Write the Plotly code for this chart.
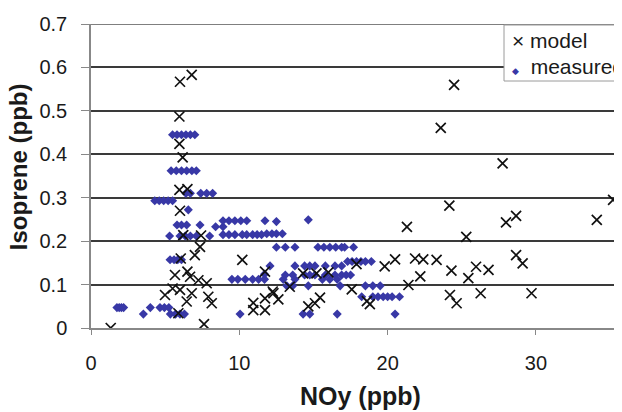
import plotly.graph_objects as go

# model points
model_x = [1.33, 6.0, 6.79, 5.96, 5.96, 6.18, 5.96, 6.5, 6.0, 6.22, 7.42, 7.35, 7.0, 6.05, 6.5, 5.66,
           6.68, 7.24, 7.8, 5.5, 6.0, 4.99, 6.79, 7.91, 6.45, 8.14, 5.89, 7.62,
           10.2, 11.73, 10.94, 10.94, 11.73, 11.73, 12.3, 12.63, 12.25, 13.4,
           14.3, 15.2, 16.0, 14.65, 15.1, 15.44, 17.58, 17.9, 18.8, 18.6, 19.8, 20.5, 21.3, 21.4,
           21.85, 22.4, 22.2, 23.3, 24.48, 23.58, 24.16, 24.3, 24.2, 24.65, 25.3, 25.44, 25.96,
           26.27, 26.8, 27.75, 27.98, 28.66, 28.66, 29.1, 29.7, 34.1, 35.2]
model_y = [0.0, 0.567, 0.583, 0.487, 0.424, 0.393, 0.318, 0.32, 0.27, 0.214, 0.213, 0.187, 0.168, 0.16, 0.13, 0.122,
           0.118, 0.11, 0.103, 0.091, 0.088, 0.076, 0.08, 0.072, 0.061, 0.057, 0.034, 0.009,
           0.157, 0.13, 0.058, 0.041, 0.068, 0.041, 0.08, 0.066, 0.084, 0.095,
           0.126, 0.126, 0.128, 0.05, 0.057, 0.07, 0.089, 0.147, 0.055, 0.062, 0.142, 0.158, 0.233, 0.099,
           0.16, 0.158, 0.119, 0.157, 0.56, 0.461, 0.282, 0.132, 0.076, 0.057, 0.21, 0.115, 0.141,
           0.08, 0.134, 0.379, 0.243, 0.258, 0.168, 0.149, 0.08, 0.249, 0.295]

# measured points
meas_x = [1.75, 1.9, 2.05, 2.2, 3.53, 4.0, 4.65, 4.95, 5.25, 5.35, 5.7, 6.0, 6.3,
          5.5, 5.8, 6.1, 6.4, 6.7, 7.0,
          5.4, 5.75, 6.1, 6.45, 6.8, 7.1,
          6.4, 6.7, 7.4, 7.8, 8.2,
          4.3, 4.6, 4.9, 5.2, 5.5, 6.56,
          5.8, 6.1, 6.45, 7.35, 8.4, 8.9,
          8.9, 9.3, 9.7, 10.1, 10.5, 11.73, 12.5, 14.65,
          5.3, 6.0, 6.35, 6.7, 7.1, 8.0, 8.9, 9.3, 9.7, 10.2, 10.5, 10.9, 11.2, 11.5, 11.85, 12.2, 12.5, 12.9,
          12.5, 13.1, 13.75, 15.3, 15.7, 16.1, 16.5, 16.9, 17.1, 17.7,
          5.33, 5.6, 5.85, 6.1, 17.3, 17.6, 17.9, 18.2, 18.5, 18.9,
          12.07, 13.75, 14.4, 14.75, 15.1, 15.8, 16.45, 16.9,
          11.7, 13.1, 13.6, 14.4, 14.75, 15.1, 15.8, 16.45, 16.9, 17.2, 17.5,
          9.5, 9.9, 10.4, 10.9, 11.3, 11.7, 12.96, 13.75, 15.6, 16.1, 16.6,
          13.2, 13.6, 14.65, 16.8, 18.5, 19.0, 19.5,
          18.25, 19.0, 19.35, 19.7, 20.0, 20.3, 20.8,
          10.05, 14.3, 14.75, 16.6, 20.5]
meas_y = [0.047, 0.047, 0.047, 0.047, 0.032, 0.047, 0.047, 0.047, 0.047, 0.032, 0.032, 0.032, 0.032,
          0.445, 0.445, 0.445, 0.445, 0.445, 0.445,
          0.362, 0.362, 0.362, 0.362, 0.362, 0.362,
          0.31, 0.31, 0.31, 0.31, 0.31,
          0.293, 0.293, 0.293, 0.293, 0.293, 0.272,
          0.237, 0.237, 0.237, 0.237, 0.233, 0.233,
          0.247, 0.247, 0.247, 0.247, 0.247, 0.247, 0.245, 0.249,
          0.212, 0.212, 0.212, 0.212, 0.212, 0.212, 0.215, 0.215, 0.215, 0.215, 0.215, 0.215, 0.215, 0.215,
          0.217, 0.217, 0.217, 0.217,
          0.186, 0.186, 0.186, 0.186, 0.186, 0.186, 0.186, 0.186, 0.186, 0.186,
          0.157, 0.157, 0.157, 0.157, 0.153, 0.153, 0.153, 0.153, 0.153, 0.153,
          0.143, 0.143, 0.143, 0.143, 0.143, 0.143, 0.143, 0.143,
          0.124, 0.122, 0.122, 0.122, 0.122, 0.122, 0.122, 0.122, 0.122, 0.122, 0.122,
          0.112, 0.112, 0.112, 0.112, 0.112, 0.112, 0.112, 0.112, 0.112, 0.112, 0.112,
          0.097, 0.097, 0.097, 0.097, 0.097, 0.097, 0.097,
          0.072, 0.072, 0.072, 0.072, 0.072, 0.072, 0.072,
          0.032, 0.032, 0.032, 0.032, 0.032]

x_ticks = [0, 10, 20, 30]
y_ticks = [0, 0.1, 0.2, 0.3, 0.4, 0.5, 0.6, 0.7]
series_names = ["model", "measured"]

FONT = "Liberation Sans, Arial, sans-serif"
BLUE = "#3838a6"
INK = "#1a1a1a"

fig = go.Figure()
fig.add_trace(go.Scatter(
    x=meas_x, y=meas_y, mode="markers", name=series_names[1],
    marker=dict(symbol="diamond", size=7, color=BLUE, line=dict(width=0)),
))
fig.add_trace(go.Scatter(
    x=model_x, y=model_y, mode="markers", name=series_names[0],
    marker=dict(symbol="x-thin-open", size=10, color="#111111",
                line=dict(width=1.7, color="#111111")),
))

# page body has an 8px margin: figure is 614x404 so it fills the 622x412 window
fig.update_layout(
    width=614, height=404,
    margin=dict(l=83, r=0, t=16, b=84, autoexpand=False),
    paper_bgcolor="white", plot_bgcolor="white",
    font=dict(family=FONT, size=20, color=INK),
    showlegend=False,
    xaxis=dict(range=[0, 35.8], tickvals=x_ticks, ticks="outside", ticklen=5,
               tickcolor="#888888", tickwidth=1.3, showline=True, linecolor="#888888",
               linewidth=1.5, showgrid=False, zeroline=False,
               tickfont=dict(size=20, family=FONT), ticklabelstandoff=11),
    yaxis=dict(range=[0, 0.7], tickvals=y_ticks, ticks="outside", ticklen=8,
               tickcolor="#888888", tickwidth=1.3, showline=True, linecolor="#888888",
               linewidth=1.5, showgrid=True, gridcolor="#3a3a3a", gridwidth=1.5,
               zeroline=False, tickfont=dict(size=20, family=FONT), ticklabelstandoff=10),
    shapes=[
        dict(type="line", xref="paper", yref="y", x0=0, x1=1, y0=0.7, y1=0.7,
             line=dict(color="#555555", width=1.5), layer="above"),
        dict(type="rect", xref="paper", yref="paper", x0=0.7778, x1=1.1, y0=0.8125, y1=0.9967,
             fillcolor="white", line=dict(color="#9a9a9a", width=1), layer="above"),
    ],
    annotations=[
        dict(text="<b>NOy (ppb)</b>", xref="paper", yref="paper", x=0.508, y=-0.224,
             xanchor="center", yanchor="middle", showarrow=False,
             font=dict(size=25, family=FONT, color=INK)),
        dict(text="<b>Isoprene (ppb)</b>", xref="paper", yref="paper", x=-0.135, y=0.53,
             xanchor="center", yanchor="middle", textangle=-90, showarrow=False,
             font=dict(size=24, family=FONT, color=INK)),
        dict(text="× " + series_names[0], xref="paper", yref="paper", x=0.789, y=0.947,
             xanchor="left", yanchor="middle", showarrow=False,
             font=dict(size=21, family=FONT, color=INK)),
        dict(text="<span style='color:" + BLUE + "; font-size:9px'>◆</span>  " + series_names[1],
             xref="paper", yref="paper", x=0.789, y=0.859,
             xanchor="left", yanchor="middle", showarrow=False,
             font=dict(size=21, family=FONT, color=INK)),
    ],
)

fig.write_html("out.html")
